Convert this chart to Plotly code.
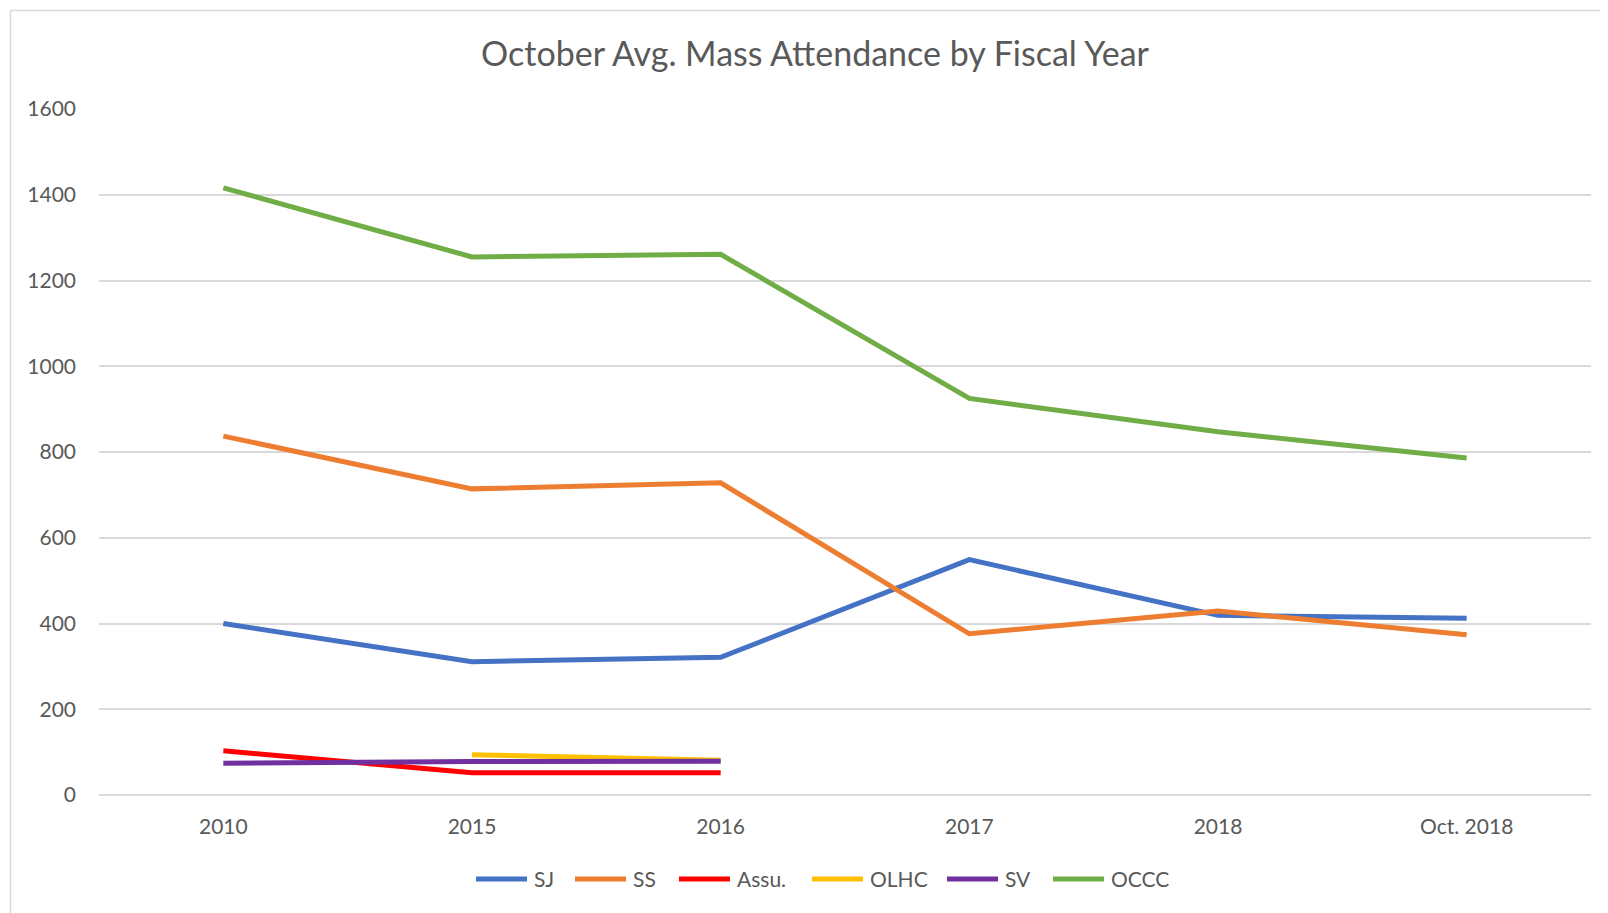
import plotly.graph_objects as go

years = ["2010", "2015", "2016", "2017", "2018", "Oct. 2018"]

sj = [400, 311, 321, 549, 419, 412]
ss = [837, 714, 728, 376, 429, 374]
assu = [103, 52, 52, None, None, None]
olhc = [None, 94, 81, None, None, None]
sv = [74, 78, 79, None, None, None]
occc = [1416, 1255, 1261, 925, 847, 786]

series = [
    ("SJ", sj, "#4472C4"),
    ("SS", ss, "#ED7D31"),
    ("Assu.", assu, "#FF0000"),
    ("OLHC", olhc, "#FFC000"),
    ("SV", sv, "#7030A0"),
    ("OCCC", occc, "#70AD47"),
]

FONT = "Lato"
GREY = "#595959"
GRID = "#D9D9D9"

# the page body adds an 8px margin, so everything is laid out in figure px
W, H = 1600, 905
OFF = 8
# plot area in screen pixels (left, right, top, bottom)
L, R, T, B = 99 - OFF, 1591 - OFF, 109 - OFF, 795 - OFF

# legend entries: screen x of each line sample, sample length, y
LEGEND_X = [474, 573, 677, 810, 945, 1051]
LEGEND_LEN = 55
LEGEND_Y = 879


def px_x(px):
    # screen px -> paper x
    return (px - OFF - L) / (R - L)


def px_y(py):
    # screen px -> paper y
    return (B - (py - OFF)) / (B - T)


def build_figure():
    fig = go.Figure()
    for name, values, color in series:
        fig.add_trace(go.Scatter(
            x=years,
            y=values,
            name=name,
            mode="lines",
            line=dict(color=color, width=5),
            connectgaps=False,
        ))

    fig.update_layout(
        width=W,
        height=H,
        margin=dict(l=L, r=W - R, t=T, b=H - B),
        paper_bgcolor="white",
        plot_bgcolor="white",
        font=dict(family=FONT, color=GREY, size=21),
        title=dict(
            text="October Avg. Mass Attendance by Fiscal Year",
            font=dict(family=FONT, size=34, color=GREY),
            x=(815 - OFF) / W,
            xanchor="center",
            y=1 - (54 - OFF) / H,
            yanchor="middle",
        ),
        showlegend=False,
    )

    fig.update_xaxes(
        type="category",
        range=[-0.5, len(years) - 0.5],
        showgrid=False,
        showline=False,
        zeroline=False,
        ticks="",
        tickfont=dict(family=FONT, size=21, color=GREY),
        ticklabelstandoff=17,
        fixedrange=True,
    )
    fig.update_yaxes(
        range=[0, 1600],
        dtick=200,
        showgrid=True,
        gridcolor=GRID,
        gridwidth=1.5,
        zeroline=True,
        zerolinecolor=GRID,
        zerolinewidth=1.5,
        showline=False,
        ticks="",
        tickfont=dict(family=FONT, size=21, color=GREY),
        ticklabelstandoff=22,
        fixedrange=True,
    )

    # chart border (runs off the right and bottom edges in the original)
    fig.add_shape(
        type="rect",
        xref="paper", yref="paper",
        x0=px_x(10.5), x1=px_x(W + 40),
        y0=px_y(H + 40), y1=px_y(10.5),
        line=dict(color=GRID, width=1.5),
        layer="below",
    )

    # legend drawn like the Excel one: long line samples with the name after
    for (name, _, color), lx in zip(series, LEGEND_X):
        fig.add_shape(
            type="line",
            xref="paper", yref="paper",
            x0=px_x(lx + 2), x1=px_x(lx + LEGEND_LEN - 2),
            y0=px_y(LEGEND_Y), y1=px_y(LEGEND_Y),
            line=dict(color=color, width=5),
        )
        fig.add_annotation(
            text=name,
            xref="paper", yref="paper",
            x=px_x(lx + LEGEND_LEN + 3), y=px_y(LEGEND_Y),
            xanchor="left", yanchor="middle",
            showarrow=False,
            font=dict(family=FONT, size=21, color=GREY),
        )
    return fig


def main():
    fig = build_figure()
    fig.write_html("out.html")


if __name__ == "__main__":
    main()
